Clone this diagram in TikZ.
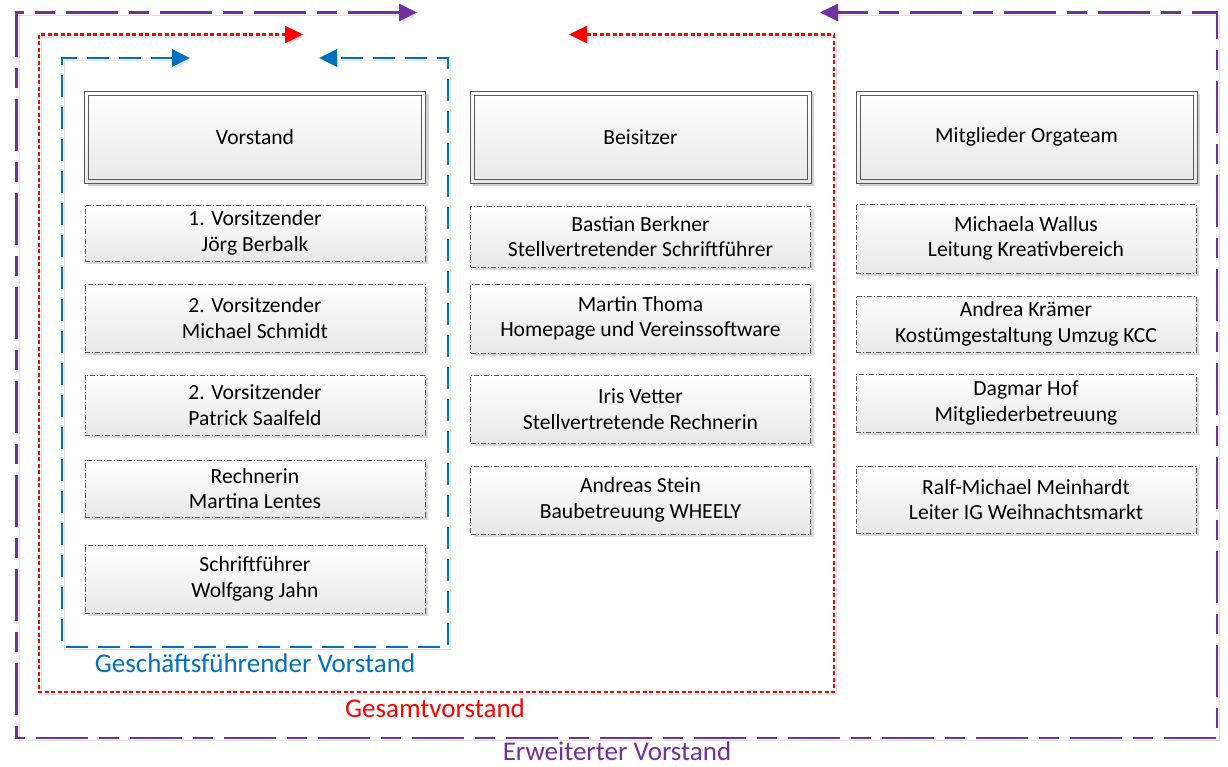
\documentclass[tikz,border=0pt]{standalone}
\usepackage{fontspec}
\setmainfont{Carlito}
\usetikzlibrary{arrows.meta,shadows}
\definecolor{cpurp}{HTML}{7030A0}
\definecolor{cred}{HTML}{FF0000}
\definecolor{cblue}{HTML}{0070C0}
\tikzset{
  every node/.style={font=\fontsize{21.6}{25.5}\selectfont},
  headbox/.style={draw=black!65, line width=0.9pt,
    top color=white, bottom color=black!9, minimum width=341pt, minimum height=92pt,
    drop shadow={shadow xshift=3pt, shadow yshift=-3pt, fill=black!18, opacity=1}, align=center},
  headin/.style={draw=black!65, line width=0.9pt},
  membox/.style={draw=black!65, line width=0.8pt, dash pattern=on 5pt off 2pt on 1pt off 2pt,
    top color=white, bottom color=black!9, minimum width=340pt, align=center,
    drop shadow={shadow xshift=3pt, shadow yshift=-3pt, fill=black!15, opacity=1}},
  lshadow/.style={preaction={draw=black!13, transform canvas={xshift=2.5pt,yshift=-2.5pt}}},
  purpline/.style={draw=cpurp, line width=2.8pt, dash pattern=on 52pt off 11pt on 20pt off 11pt, lshadow},
  redline/.style={draw=cred, line width=2.5pt, dash pattern=on 4pt off 2.5pt, lshadow},
  blueline/.style={draw=cblue, line width=2.8pt, dash pattern=on 22pt off 10pt, lshadow},
  flabel/.style={inner sep=0pt, font=\fontsize{27}{30}\selectfont}
}
\begin{document}
\begin{tikzpicture}[x=1pt,y=-1pt]
\useasboundingbox (0,0) rectangle (1228,766);

% frames
\coordinate (pA) at (417,12.5);
\coordinate (pB) at (820,12.5);
\coordinate (rA) at (303,34.5);
\coordinate (rB) at (569,34.5);
\coordinate (bA) at (190,58);
\coordinate (bB) at (319,58);

\draw[purpline, {Triangle[length=18pt,width=17pt]}-{Triangle[length=18pt,width=17pt]}]
  (pA) -- (16.5,12.5) -- (16.5,738) -- (1217,738) -- (1217,12.5) -- (pB);
\draw[redline, {Triangle[length=18pt,width=17pt]}-{Triangle[length=18pt,width=17pt]}]
  (rA) -- (39,34.5) -- (39,692) -- (834,692) -- (834,34.5) -- (rB);
\draw[blueline, {Triangle[length=18pt,width=17pt]}-{Triangle[length=18pt,width=17pt]}]
  (bA) -- (62,58) -- (62,647) -- (448,647) -- (448,58) -- (bB);

% headers
\node[headbox] (hVor) at (255,137) {Vorstand};
\node[headbox] (hBei) at (640.5,137) {Beisitzer};
\node[headbox] (hMit) at (1026.5,137) {Mitglieder Orgateam};
\foreach \h in {hVor,hBei,hMit}{
  \draw[headin] ([shift={(4.5,-4.5)}]\h.south west) rectangle ([shift={(-4.5,4.5)}]\h.north east);
}

% left column
\node[membox, minimum height=56pt] (l1) at (255,233) {1. Vorsitzender\\Jörg Berbalk};
\node[membox, minimum height=68pt] (l2) at (255,318) {2. Vorsitzender\\Michael Schmidt};
\node[membox, minimum height=60pt] (l3) at (255,405) {2. Vorsitzender\\Patrick Saalfeld};
\node[membox, minimum height=57pt] (l4) at (255,488.5) {Rechnerin\\Martina Lentes};
\node[membox, minimum height=68pt] (l5) at (255,579) {Schriftführer\\Wolfgang Jahn};

% middle column
\node[membox, minimum height=61pt] (m1) at (640.5,236.5) {Bastian Berkner\\Stellvertretender Schriftführer};
\node[membox, minimum height=69pt] (m2) at (640.5,318.5) {Martin Thoma\\Homepage und Vereinssoftware};
\node[membox, minimum height=68pt] (m3) at (640.5,409) {Iris Vetter\\Stellvertretende Rechnerin};
\node[membox, minimum height=68pt] (m4) at (640.5,500) {Andreas Stein\\Baubetreuung WHEELY};

% right column
\node[membox, minimum height=69pt] (r1) at (1026,238.5) {Michaela Wallus\\Leitung Kreativbereich};
\node[membox, minimum height=56pt] (r2) at (1026,324) {Andrea Krämer\\Kostümgestaltung Umzug KCC};
\node[membox, minimum height=58pt] (r3) at (1026,403) {Dagmar Hof\\Mitgliederbetreuung};
\node[membox, minimum height=67pt] (r4) at (1026,499.5) {Ralf-Michael Meinhardt\\Leiter IG Weihnachtsmarkt};

% labels
\node[flabel, text=cblue] (gfv) at (255,663) {Geschäftsführender Vorstand};
\node[flabel, text=cred] (gv) at (435,708) {Gesamtvorstand};
\node[flabel, text=cpurp] (ev) at (617,751) {Erweiterter Vorstand};
\end{tikzpicture}
\end{document}
